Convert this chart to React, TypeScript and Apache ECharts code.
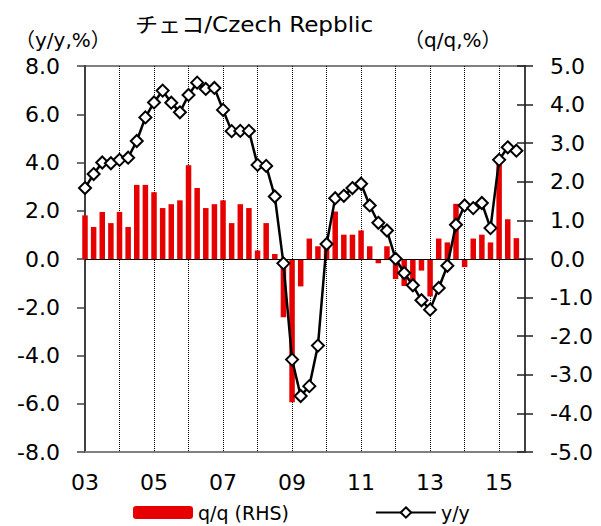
import React, { useEffect, useRef } from 'react';
import * as echarts from 'echarts';

const years = [2003, 2004, 2005, 2006, 2007, 2008, 2009, 2010, 2011, 2012, 2013, 2014, 2015];
const quarters = ['Q1', 'Q2', 'Q3', 'Q4'];
const categories = years.flatMap((y) => quarters.map((q) => `${y}${q}`));
const xTickLabels = ['03', '05', '07', '09', '11', '13', '15'];

const titleText = 'チェコ/Czech Repblic';
const leftUnit = '（y/y,%）';
const rightUnit = '（q/q,%）';
const barName = 'q/q (RHS)';
const lineName = 'y/y';

// q/q (right axis), 2003Q1 .. 2015Q3
const qqValues = [
  1.13, 0.83, 1.22, 0.93,
  1.22, 0.83, 1.92, 1.92,
  1.73, 1.32, 1.42, 1.52,
  2.43, 1.84, 1.32, 1.42,
  1.52, 0.93, 1.42, 1.32,
  0.22, 0.93, 0.13, -1.51,
  -3.71, -0.71, 0.53, 0.33,
  0.35, 1.23, 0.63, 0.63,
  0.74, 0.33, -0.11, 0.33,
  -0.52, -0.7, -0.62, -0.3,
  -0.97, 0.53, 0.43, 1.43,
  -0.21, 0.53, 0.63, 0.43,
  2.53, 1.03, 0.54,
];

// y/y (left axis), 2003Q1 .. 2015Q3
const yyValues = [
  2.94, 3.52, 4.0, 3.97,
  4.11, 4.2, 4.89, 5.87,
  6.49, 6.98, 6.48, 6.08,
  6.8, 7.31, 7.05, 7.09,
  6.18, 5.3, 5.31, 5.31,
  3.9, 3.86, 2.59, -0.18,
  -4.17, -5.68, -5.27, -3.59,
  0.62, 2.52, 2.62, 2.94,
  3.12, 2.22, 1.5, 1.18,
  0.01, -0.58, -1.09, -1.71,
  -2.1, -1.2, -0.28, 1.42,
  2.22, 2.11, 2.32, 1.28,
  4.11, 4.63, 4.49,
];

const leftMin = -8, leftMax = 8, leftInterval = 2;
const rightMin = -5, rightMax = 5, rightInterval = 1;

export default function App() {
  const ref = useRef<HTMLDivElement>(null);
  useEffect(() => {
    const chart = echarts.init(ref.current as HTMLDivElement, null, { renderer: 'svg' });
    const font = '"DejaVu Sans", "Noto Sans CJK JP", sans-serif';
    const isLabelTick = (_i: number, v: string) =>
      v.endsWith('Q1') && xTickLabels.includes(v.slice(2, 4));
    chart.setOption({
      animation: false,
      backgroundColor: '#fff',
      textStyle: { fontFamily: font, color: '#000' },
      grid: {
        left: 85, right: 76, top: 66, bottom: 74,
        show: true, borderColor: '#808080', borderWidth: 2,
      },
      legend: {
        left: 133, top: 503, padding: 0,
        itemWidth: 60, itemHeight: 13, itemGap: 86,
        textStyle: { fontSize: 19, color: '#000', fontFamily: font },
        data: [barName, lineName],
      },
      xAxis: {
        type: 'category',
        data: categories,
        boundaryGap: false,
        axisLine: { onZero: false, lineStyle: { color: '#808080', width: 2 } },
        axisTick: { show: false },
        axisLabel: {
          interval: isLabelTick,
          formatter: (v: string) => v.slice(2, 4),
          color: '#000', fontSize: 22, margin: 19, fontFamily: font,
        },
        splitLine: {
          show: true,
          interval: (_i: number, v: string) => v.endsWith('Q1'),
          lineStyle: { color: '#000', type: 'dotted', width: 1 },
        },
      },
      yAxis: [
        {
          type: 'value', position: 'left',
          min: leftMin, max: leftMax, interval: leftInterval,
          axisLine: { show: true, lineStyle: { color: '#404040', width: 2 } },
          axisTick: { show: true, inside: false, length: 8, lineStyle: { color: '#404040', width: 1.5 } },
          axisLabel: { formatter: (v: number) => v.toFixed(1), color: '#000', fontSize: 22, margin: 25, fontFamily: font },
          splitLine: { show: false },
        },
        {
          type: 'value', position: 'right',
          min: rightMin, max: rightMax, interval: rightInterval,
          axisLine: { show: true, lineStyle: { color: '#404040', width: 2 } },
          axisTick: { show: true, inside: false, length: 8, lineStyle: { color: '#202020', width: 1.5 } },
          axisLabel: { formatter: (v: number) => v.toFixed(1), color: '#000', fontSize: 22, margin: 25, fontFamily: font },
          splitLine: { show: false },
        },
        {
          type: 'value', position: 'right',
          min: rightMin, max: rightMax, interval: rightInterval,
          axisLine: { show: false },
          axisTick: { show: true, inside: true, length: 8, lineStyle: { color: '#202020', width: 1.5 } },
          axisLabel: { show: false },
          splitLine: { show: false },
        },
      ],
      series: [
        {
          name: barName, type: 'bar', yAxisIndex: 1,
          data: qqValues, barWidth: 5.5,
          itemStyle: { color: '#e60000' },
          markLine: {
            silent: true, symbol: 'none',
            label: { show: false },
            lineStyle: { color: '#000', width: 1, type: 'solid' },
            data: [{ yAxis: 0 }],
          },
        },
        {
          name: lineName, type: 'line', yAxisIndex: 0,
          data: yyValues, symbol: 'diamond', symbolSize: 12,
          showSymbol: true, showAllSymbol: true,
          lineStyle: { color: '#000', width: 2.5 },
          itemStyle: { color: '#fff', borderColor: '#000', borderWidth: 2 },
          z: 5,
        },
      ],
      graphic: [
        {
          type: 'text', x: 135, y: 25, scaleX: 1.1,
          style: { text: titleText, fontSize: 21, fontFamily: font, fill: '#000', verticalAlign: 'middle' },
        },
        {
          type: 'text', x: 15, y: 40,
          style: { text: leftUnit, fontSize: 20, fontFamily: font, fill: '#000', verticalAlign: 'middle' },
        },
        {
          type: 'text', x: 404, y: 40,
          style: { text: rightUnit, fontSize: 20, fontFamily: font, fill: '#000', verticalAlign: 'middle' },
        },
      ],
    });
    return () => chart.dispose();
  }, []);
  return (
    <div
      ref={ref}
      style={{ position: 'fixed', left: 0, top: 0, width: 601, height: 526, background: '#fff' }}
    />
  );
}
